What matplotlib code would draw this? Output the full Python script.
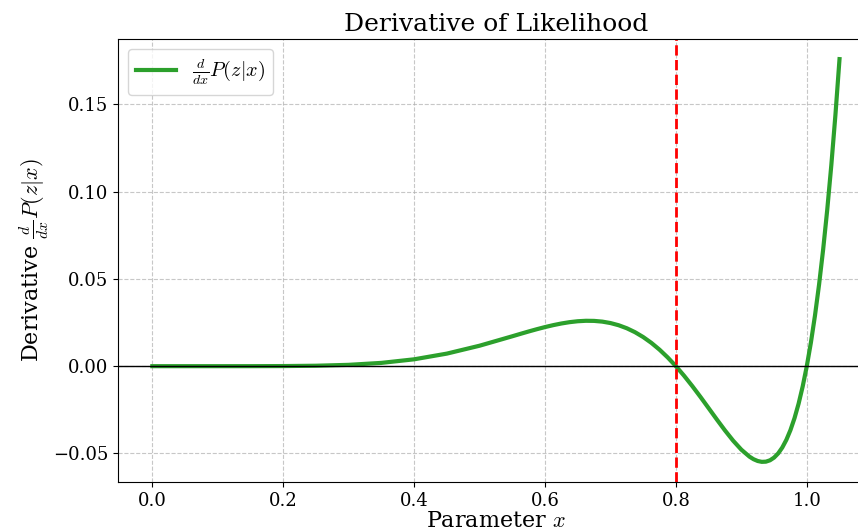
import matplotlib
matplotlib.use("Agg")
import matplotlib.pyplot as plt

# values
x_vals = [0.0, 0.05, 0.1, 0.15, 0.2, 0.25, 0.3, 0.35, 0.4, 0.45, 0.5, 0.55,
          0.5625, 0.575, 0.5875, 0.6, 0.6125, 0.625, 0.6375, 0.65, 0.6625,
          0.675, 0.6875, 0.7, 0.7125, 0.725, 0.7375, 0.75, 0.7625, 0.775,
          0.7875, 0.8, 0.8125, 0.825, 0.8375, 0.85, 0.8625, 0.875, 0.8875,
          0.9, 0.9125, 0.91875, 0.925, 0.93125, 0.9375, 0.94375, 0.95,
          0.95625, 0.9625, 0.96875, 0.975, 0.98125, 0.9875, 0.99375, 1.0,
          1.00625, 1.0125, 1.01875, 1.025, 1.03125, 1.0375, 1.04375, 1.05]
dy_vals = [0.0, 0.0, 0.0000006, 0.0000094, 0.0000614, 0.000252, 0.000765,
           0.00188, 0.003932, 0.007194, 0.011719, 0.017127,
           0.018514, 0.019872, 0.021175, 0.022395, 0.023497, 0.024447,
           0.025207, 0.025737, 0.025995, 0.025937, 0.025522, 0.024706,
           0.02345, 0.021715, 0.019469, 0.016685, 0.013347, 0.009445,
           0.004989, 0.0, -0.005479, -0.01138, -0.017598, -0.024043,
           -0.030514, -0.036815, -0.042691, -0.04783, -0.051855, -0.053314,
           -0.05432, -0.054806, -0.0547, -0.053918, -0.052375, -0.04998,
           -0.046633, -0.042225, -0.036645, -0.029767, -0.021462, -0.011589,
           0.0, 0.013465, 0.028976, 0.04671, 0.066864, 0.089638, 0.115245,
           0.143913, 0.175888]
x_mle = 0.8

plt.rcParams['font.family'] = 'DejaVu Serif'
plt.rcParams['mathtext.fontset'] = 'cm'

fig = plt.figure(figsize=(8.58, 5.31), dpi=100)
ax = fig.add_axes([0.1375, 0.0923, 0.881, 0.8343])

ax.plot(x_vals, dy_vals, color='#2ca02c', lw=3, label=r'$\frac{d}{dx}P(z|x)$')
ax.axhline(0, color='black', lw=1)
ax.axvline(x_mle, color='red', ls='--', lw=2)

ax.set_title('Derivative of Likelihood', fontsize=18)
ax.set_xlabel('Parameter $x$', fontsize=16, labelpad=0)
ax.set_ylabel(r'Derivative $\frac{d}{dx}P(z|x)$', fontsize=16, labelpad=1)
ax.tick_params(labelsize=13)
ax.grid(True, ls='--', alpha=0.7)
ax.legend(loc='upper left', fontsize=14.5)

fig.savefig('out.png', dpi=100)
